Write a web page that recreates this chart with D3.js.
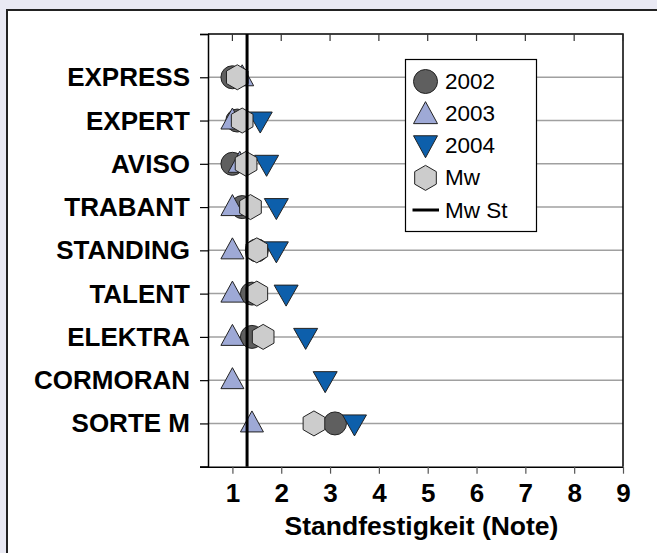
<!DOCTYPE html>
<html>
<head>
<meta charset="utf-8">
<script src="https://cdn.jsdelivr.net/npm/d3@7"></script>
<style>
  html, body { margin: 0; padding: 0; background: #e9e9f3; }
  svg text { font-family: Arial, "Liberation Sans", sans-serif; }
</style>
</head>
<body>
<div id="chart"></div>
<script>
// Standfestigkeit by variety, 2002-2004, mean and overall mean

const categories = ["EXPRESS", "EXPERT", "AVISO", "TRABANT", "STANDING", "TALENT", "ELEKTRA", "CORMORAN", "SORTE M"];
const v2002 = [1.0, 1.1, 1.0, 1.2, 1.5, 1.4, 1.4, null, 3.1];
const v2003 = [1.2, 1.0, 1.15, 1.0, 1.0, 1.0, 1.0, 1.0, 1.4];
const v2004 = [null, 1.57, 1.7, 1.9, 1.9, 2.1, 2.5, 2.9, 3.5];
const vMw = [1.1, 1.2, 1.28, 1.37, 1.5, 1.5, 1.63, null, 2.67];
const mwSt = 1.3;
const xTicks = [1, 2, 3, 4, 5, 6, 7, 8, 9];
const legendLabels = ["2002", "2003", "2004", "Mw", "Mw St"];

const width = 657, height = 553;
const svg = d3.select("#chart").append("svg")
  .attr("width", width)
  .attr("height", height);

// panel (runs off the right and bottom edge)
svg.append("rect")
  .attr("x", 7).attr("y", 10)
  .attr("width", 660).attr("height", 560)
  .attr("fill", "#fff")
  .attr("stroke", "#222")
  .attr("stroke-width", 2);

const x = d3.scaleLinear().domain([0.5, 9]).range([208, 623]);
const y = d3.scaleLinear().domain([0, 10]).range([34, 466.7]);

const g = svg.append("g");

// gridlines
g.selectAll(".grid")
  .data(categories)
  .join("line")
  .attr("x1", x(0.5)).attr("x2", x(9))
  .attr("y1", (d, i) => y(i + 1)).attr("y2", (d, i) => y(i + 1))
  .attr("stroke", "#a0a0a0")
  .attr("stroke-width", 1.5);

// plot frame: top and right
g.append("path")
  .attr("d", `M${x(0.5)},${y(0)}H${x(9)}V${y(10)}`)
  .attr("fill", "none")
  .attr("stroke", "#000")
  .attr("stroke-width", 1.5);

// top inside ticks
g.selectAll(".ttick")
  .data(xTicks)
  .join("line")
  .attr("x1", d => x(d)).attr("x2", d => x(d))
  .attr("y1", y(0)).attr("y2", y(0) + 7)
  .attr("stroke", "#333")
  .attr("stroke-width", 1.2);

// bottom axis
const xAxis = g.append("g")
  .attr("transform", `translate(0,${y(10)})`)
  .call(d3.axisBottom(x).tickValues(xTicks).tickSize(7).tickFormat(d3.format("d")));
xAxis.select(".domain").attr("stroke", "#000").attr("stroke-width", 1.5)
  .attr("d", `M${x(0.5) - 8},0.5H${x(9)}`);
xAxis.selectAll(".tick line").attr("stroke", "#555").attr("stroke-width", 1.2);
xAxis.selectAll(".tick text")
  .attr("y", 35)
  .attr("dy", 0)
  .style("font-size", "26px")
  .style("font-weight", "bold")
  .attr("fill", "#000");

// left axis
const yAxis = g.append("g")
  .attr("transform", `translate(${x(0.5)},0)`)
  .call(d3.axisLeft(y).tickValues(d3.range(0, 11)).tickSize(8).tickFormat(""));
yAxis.select(".domain").attr("stroke", "#000").attr("stroke-width", 1.5);
yAxis.selectAll(".tick line").attr("stroke", "#000").attr("stroke-width", 1.2);

// category labels
g.selectAll(".cat")
  .data(categories)
  .join("text")
  .attr("x", 190)
  .attr("y", (d, i) => y(i + 1) + 9)
  .attr("text-anchor", "end")
  .style("font-size", "26px")
  .style("font-weight", "bold")
  .text(d => d);

// axis title
svg.append("text")
  .attr("x", 421.5)
  .attr("y", 535)
  .attr("text-anchor", "middle")
  .style("font-size", "26.5px")
  .style("font-weight", "bold")
  .text("Standfestigkeit (Note)");

// marker shapes
const hexPath = r => {
  const pts = d3.range(6).map(k => {
    const a = Math.PI / 3 * k;
    return [r * Math.sin(a), -r * Math.cos(a)];
  });
  return "M" + pts.map(p => p.join(",")).join("L") + "Z";
};
const triUp = (w, h) => `M0,${-h / 2 - 2}L${w / 2},${h / 2 - 2}L${-w / 2},${h / 2 - 2}Z`;
const triDown = (w, h) => `M${-w / 2},${-h / 2 + 2}L${w / 2},${-h / 2 + 2}L0,${h / 2 + 2}Z`;

const series = [
  { values: v2002, fill: "#5f5f5f", shape: "circle" },
  { values: v2003, fill: "#9ea9d6", shape: triUp(23, 21) },
  { values: v2004, fill: "#0d5fab", shape: triDown(24, 21) },
  { values: vMw, fill: "#cccccc", shape: hexPath(12.5) }
];

series.forEach(s => {
  const pts = s.values.map((v, i) => ({ v, i })).filter(d => d.v != null);
  const sel = g.append("g").selectAll("path")
    .data(pts)
    .join(s.shape === "circle" ? "circle" : "path")
    .attr("fill", s.fill)
    .attr("stroke", "#222")
    .attr("stroke-width", 1);
  if (s.shape === "circle") {
    sel.attr("cx", d => x(d.v)).attr("cy", d => y(d.i + 1)).attr("r", 11.5);
  } else {
    sel.attr("d", s.shape).attr("transform", d => `translate(${x(d.v)},${y(d.i + 1)})`);
  }
});

// overall mean line
g.append("line")
  .attr("x1", x(mwSt)).attr("x2", x(mwSt))
  .attr("y1", y(0)).attr("y2", y(10))
  .attr("stroke", "#000")
  .attr("stroke-width", 3);

// legend
const lg = svg.append("g");
lg.append("rect")
  .attr("x", 405.5).attr("y", 59.5)
  .attr("width", 131).attr("height", 172)
  .attr("fill", "#fff")
  .attr("stroke", "#000")
  .attr("stroke-width", 1.2);

const legY = d3.scalePoint().domain(legendLabels).range([81.5, 210]);
const mx = 425.5;
lg.append("circle").attr("cx", mx).attr("cy", legY("2002")).attr("r", 12)
  .attr("fill", series[0].fill).attr("stroke", "#222");
lg.append("path").attr("d", triUp(24, 22)).attr("transform", `translate(${mx},${legY("2003") + 1})`)
  .attr("fill", series[1].fill).attr("stroke", "#222");
lg.append("path").attr("d", triDown(24, 22)).attr("transform", `translate(${mx},${legY("2004") - 1})`)
  .attr("fill", series[2].fill).attr("stroke", "#222");
lg.append("path").attr("d", hexPath(12.5)).attr("transform", `translate(${mx},${legY("Mw")})`)
  .attr("fill", series[3].fill).attr("stroke", "#222");
lg.append("line")
  .attr("x1", 412.5).attr("x2", 439)
  .attr("y1", legY("Mw St")).attr("y2", legY("Mw St"))
  .attr("stroke", "#000").attr("stroke-width", 3);

lg.selectAll(".ltext")
  .data(legendLabels)
  .join("text")
  .attr("x", 445)
  .attr("y", d => legY(d) + 7.5)
  .style("font-size", "22.5px")
  .text(d => d);
</script>
</body>
</html>
